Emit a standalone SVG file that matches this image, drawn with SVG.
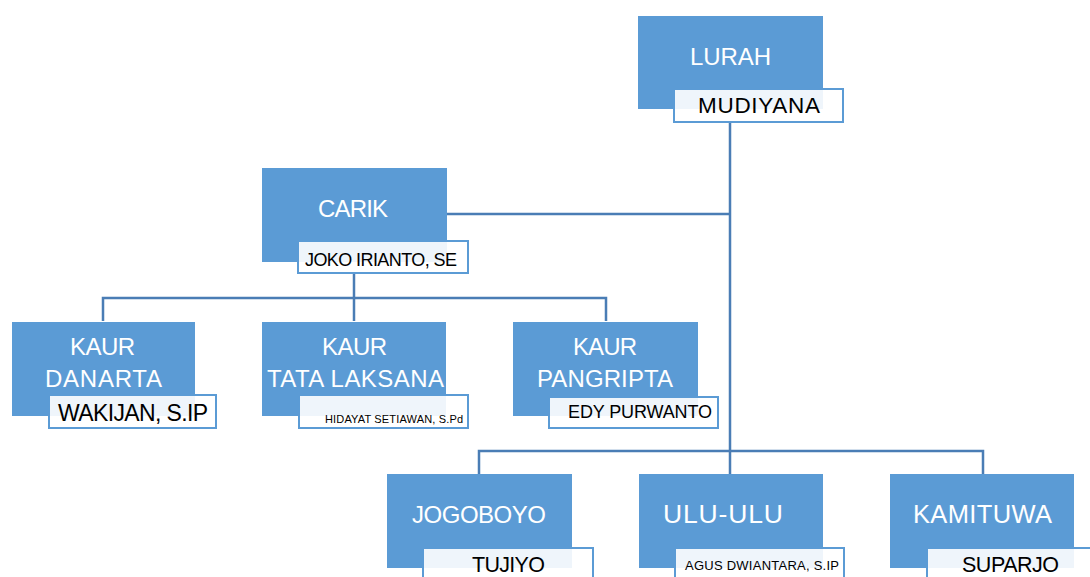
<svg xmlns="http://www.w3.org/2000/svg" width="1090" height="577" viewBox="0 0 1090 577">
<style>
.box{fill:#5b9bd5;}
.nm{fill:#ffffff;fill-opacity:0.9;stroke:#5b9bd5;stroke-width:2;}
.t{fill:#ffffff;font-family:"Liberation Sans",Arial,sans-serif;font-size:24px;}
.n{fill:#000000;font-family:"Liberation Sans",Arial,sans-serif;}
.c{stroke:#4a7db5;stroke-width:2.5;fill:none;}
</style>
<rect width="1090" height="577" fill="#ffffff"/>
<g id="connectors">
<path class="c" d="M730 122 V474"/>
<path class="c" d="M447 214 H730"/>
<path class="c" d="M354 273 V298"/>
<path class="c" d="M103 321 V298 H606 V321"/>
<path class="c" d="M354 298 V321"/>
<path class="c" d="M479 474 V451 H983 V474"/>
</g>
<g id="lurah">
<rect class="box" x="638" y="16" width="185" height="93"/>
<text class="t" x="690" y="65" textLength="81">LURAH</text>
<rect class="nm" x="674" y="89" width="169" height="33"/>
<text class="n" x="698" y="113" font-size="22.5" textLength="122">MUDIYANA</text>
</g>
<g id="carik">
<rect class="box" x="262" y="168" width="185" height="94"/>
<text class="t" x="318" y="217" textLength="70">CARIK</text>
<rect class="nm" x="298" y="241" width="170" height="32"/>
<text class="n" x="305" y="266" font-size="18" textLength="152">JOKO IRIANTO, SE</text>
</g>
<g id="kaur-danarta">
<rect class="box" x="12" y="322" width="183" height="94"/>
<text class="t" x="70" y="355" textLength="65">KAUR</text>
<text class="t" x="45" y="387" textLength="117">DANARTA</text>
<rect class="nm" x="49" y="395" width="167" height="33"/>
<text class="n" x="58" y="421" font-size="23" textLength="150">WAKIJAN, S.IP</text>
</g>
<g id="kaur-tata-laksana">
<rect class="box" x="262" y="322" width="184" height="94"/>
<text class="t" x="322" y="355" textLength="65">KAUR</text>
<text class="t" x="267" y="387" textLength="177">TATA LAKSANA</text>
<rect class="nm" x="299" y="395" width="169" height="33"/>
<text class="n" x="325" y="423" font-size="11" textLength="138">HIDAYAT SETIAWAN, S.Pd</text>
</g>
<g id="kaur-pangripta">
<rect class="box" x="513" y="322" width="185" height="94"/>
<text class="t" x="573" y="355" textLength="64">KAUR</text>
<text class="t" x="537" y="387" textLength="136">PANGRIPTA</text>
<rect class="nm" x="549" y="397" width="169" height="31"/>
<text class="n" x="568" y="418" font-size="18" textLength="144">EDY PURWANTO</text>
</g>
<g id="jogoboyo">
<rect class="box" x="387" y="474" width="185" height="94"/>
<text class="t" x="412" y="523" textLength="134">JOGOBOYO</text>
<rect class="nm" x="423" y="548" width="170" height="34"/>
<text class="n" x="472" y="572" font-size="21.5" textLength="73">TUJIYO</text>
</g>
<g id="ulu-ulu">
<rect class="box" x="639" y="474" width="184" height="94"/>
<text class="t" x="663" y="523" style="font-size:26.5px" textLength="120">ULU-ULU</text>
<rect class="nm" x="675" y="548" width="169" height="34"/>
<text class="n" x="685" y="570" font-size="13" textLength="154">AGUS DWIANTARA, S.IP</text>
</g>
<g id="kamituwa">
<rect class="box" x="890" y="474" width="184" height="94"/>
<text class="t" x="913" y="523" style="font-size:25.5px" textLength="139">KAMITUWA</text>
<rect class="nm" x="927" y="548" width="170" height="34"/>
<text class="n" x="962" y="572" font-size="21.5" textLength="97">SUPARJO</text>
</g>
</svg>
